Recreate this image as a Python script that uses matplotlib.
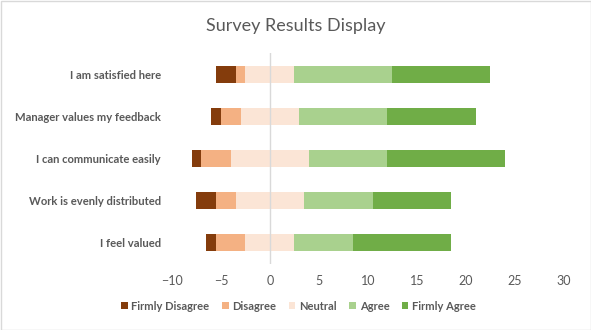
import matplotlib
matplotlib.use("Agg")
import matplotlib.pyplot as plt
import numpy as np
from matplotlib.patches import Rectangle

plt.rcParams['font.family'] = ['Lato', 'DejaVu Sans']

categories = ["I am satisfied here", "Manager values my feedback", "I can communicate easily",
              "Work is evenly distributed", "I feel valued"]
firmly_disagree = [2, 1, 1, 2, 1]
disagree = [1, 2, 3, 2, 3]
neutral = [5, 6, 8, 7, 5]
agree = [10, 9, 8, 7, 6]
firmly_agree = [10, 9, 12, 8, 10]

series_names = ["Firmly Disagree", "Disagree", "Neutral", "Agree", "Firmly Agree"]
colors = ["#843C0C", "#F4B183", "#FBE5D6", "#A9D18E", "#70AD47"]

fig = plt.figure(figsize=(5.91, 3.3), dpi=100)
ax = fig.add_axes([0.291, 0.2015, 0.663, 0.6364])

y = np.arange(len(categories))[::-1]
fd = np.array(firmly_disagree, float)
d = np.array(disagree, float)
n = np.array(neutral, float)
a = np.array(agree, float)
fa = np.array(firmly_agree, float)

start = -(fd + d + n / 2)
data = [fd, d, n, a, fa]
left = start.copy()
h = 0.4
handles = []
for vals, col, name in zip(data, colors, series_names):
    b = ax.barh(y, vals, left=left, height=h, color=col, label=name, zorder=3)
    handles.append(b)
    left = left + vals

ax.set_xlim(-10, 30)
ax.set_ylim(-0.5, len(categories) - 0.5)
ax.set_xticks(np.arange(-10, 31, 5))
ax.set_yticks(y)
ax.set_yticklabels(categories, fontsize=8.1, fontweight='bold', color='#595959')
ax.tick_params(axis='x', labelsize=9, colors='#595959', length=0, pad=8)
ax.tick_params(axis='y', length=0, pad=8)
for s in ax.spines.values():
    s.set_visible(False)
ax.axvline(0, color='#D9D9D9', linewidth=1, zorder=4)

fig.text(0.5, 0.922, "Survey Results Display", ha='center', va='center', fontsize=13, color='#595959')

fig.legend(handles=handles, labels=series_names, loc='center', bbox_to_anchor=(0.505, 1 - 306/330),
           ncol=5, frameon=False, handlelength=0.6, handleheight=0.6,
           columnspacing=1.1, handletextpad=0.35, prop={'weight': 'bold', 'size': 8})
for t in fig.legends[0].get_texts():
    t.set_color('#595959')

fig.patches.append(Rectangle((0.5/591, 0.5/330), 1 - 1/591, 1 - 1/330, transform=fig.transFigure,
                             fill=False, edgecolor='#D9D9D9', linewidth=1))

fig.savefig("out.png", dpi=100)
